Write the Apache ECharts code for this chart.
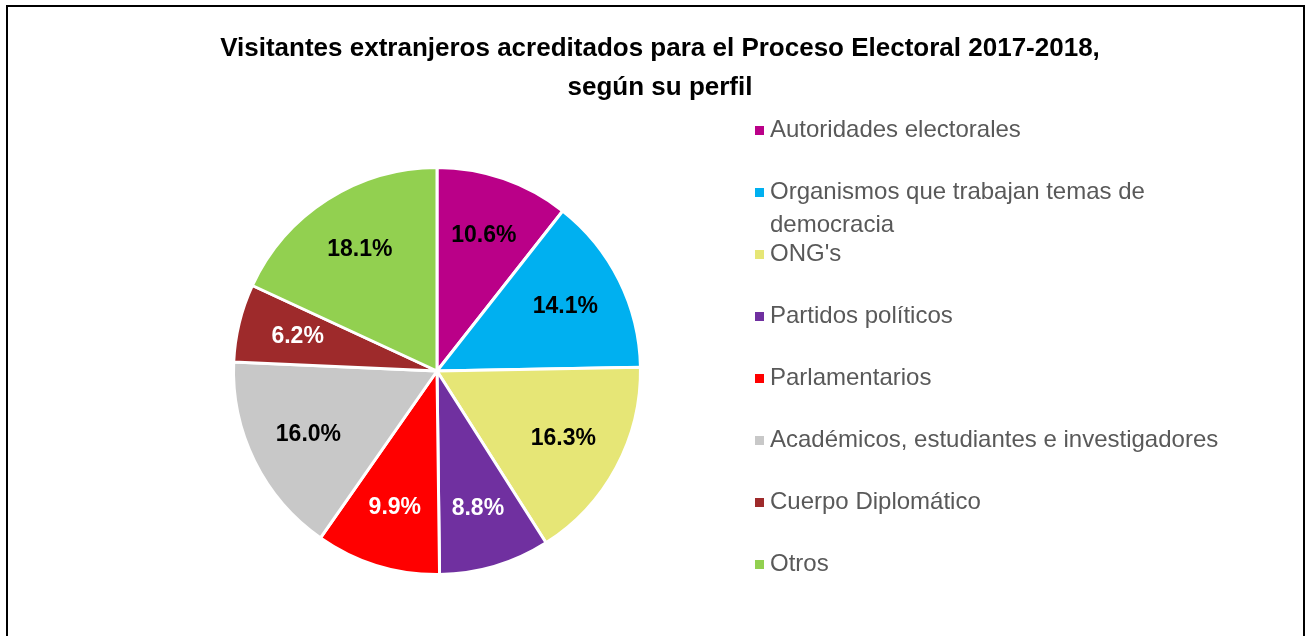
<!DOCTYPE html>
<html>
<head>
<meta charset="utf-8">
<script src="https://cdn.jsdelivr.net/npm/echarts@6/dist/echarts.min.js"></script>
<style>
    html, body { margin: 0; padding: 0; background: #fff; }
    #chart { width: 1309px; height: 636px; }
</style>
</head>
<body>
<div id="chart"></div>
<script>
    // datos del grafico
    var categorias = [
        'Autoridades electorales',
        'Organismos que trabajan temas de democracia',
        "ONG's",
        'Partidos políticos',
        'Parlamentarios',
        'Académicos, estudiantes e investigadores',
        'Cuerpo Diplomático',
        'Otros'
    ];
    var porcentajes = [10.6, 14.1, 16.3, 8.8, 9.9, 16.0, 6.2, 18.1];

    var colores = ['#BA0088', '#00B0F0', '#E6E676', '#7030A0', '#FF0000', '#C8C8C8', '#9E2A2B', '#92D050'];
    var coloresEtiqueta = ['#000', '#000', '#000', '#fff', '#fff', '#000', '#fff', '#000'];

    var fuente = '"Liberation Sans Narrow", "Arial Narrow", "Liberation Sans", Arial, sans-serif';
    var centro = [437, 371];
    var radio = 203.5;

    var datos = categorias.map(function (c, i) {
        return {name: c, value: porcentajes[i], itemStyle: {color: colores[i]}};
    });
    // serie invisible solo para colocar las etiquetas un poco mas afuera
    var datosEtiqueta = categorias.map(function (c, i) {
        return {
            name: c,
            value: porcentajes[i],
            label: {color: coloresEtiqueta[i]}
        };
    });

    var legendaTexto = {
        color: '#595959',
        fontFamily: fuente,
        fontSize: 24,
        lineHeight: 33
    };

    function leyenda(top, items, extra) {
        var l = {
            orient: 'vertical',
            left: 748,
            top: top,
            itemWidth: 11,
            itemHeight: 11,
            itemGap: 29,
            icon: 'rect',
            selectedMode: false,
            textStyle: legendaTexto,
            data: items
        };
        if (extra) l.formatter = extra;
        return l;
    }

    var chart = echarts.init(document.getElementById('chart'), null, {renderer: 'canvas'});
    var option = {
        animation: false,
        backgroundColor: '#fff',
        title: {
            text: 'Visitantes extranjeros acreditados para el Proceso Electoral 2017-2018,\nsegún su perfil',
            left: 655,
            textAlign: 'center',
            top: 24,
            textStyle: {
                fontFamily: fuente,
                fontWeight: 'bold',
                fontSize: 26,
                lineHeight: 39,
                color: '#000'
            }
        },
        graphic: [{
            type: 'rect',
            silent: true,
            shape: {x: 7, y: 6, width: 1297, height: 700},
            style: {fill: 'none', stroke: '#000', lineWidth: 2}
        }],
        legend: [
            leyenda(109, [categorias[0]]),
            // linea vacia arriba para que el cuadro quede a la altura de la primera linea
            leyenda(138, [categorias[1]], function () {
                return '\u00a0\nOrganismos que trabajan temas de\ndemocracia';
            }),
            leyenda(233, categorias.slice(2))
        ],
        series: [
            {
                name: 'perfil',
                type: 'pie',
                center: centro,
                radius: [0, radio],
                startAngle: 90,
                clockwise: true,
                silent: true,
                label: {show: false},
                labelLine: {show: false},
                itemStyle: {borderColor: '#fff', borderWidth: 3},
                data: datos
            },
            {
                name: 'etiquetas',
                type: 'pie',
                center: centro,
                radius: [radio * 0.38, radio],
                startAngle: 90,
                clockwise: true,
                silent: true,
                itemStyle: {color: 'rgba(0,0,0,0)', borderWidth: 0},
                labelLine: {show: false},
                label: {
                    show: true,
                    position: 'inside',
                    fontFamily: fuente,
                    fontWeight: 'bold',
                    fontSize: 23,
                    formatter: function (p) {
                        return p.value.toFixed(1) + '%';
                    }
                },
                data: datosEtiqueta
            }
        ]
    };
    chart.setOption(option);
</script>
</body>
</html>
